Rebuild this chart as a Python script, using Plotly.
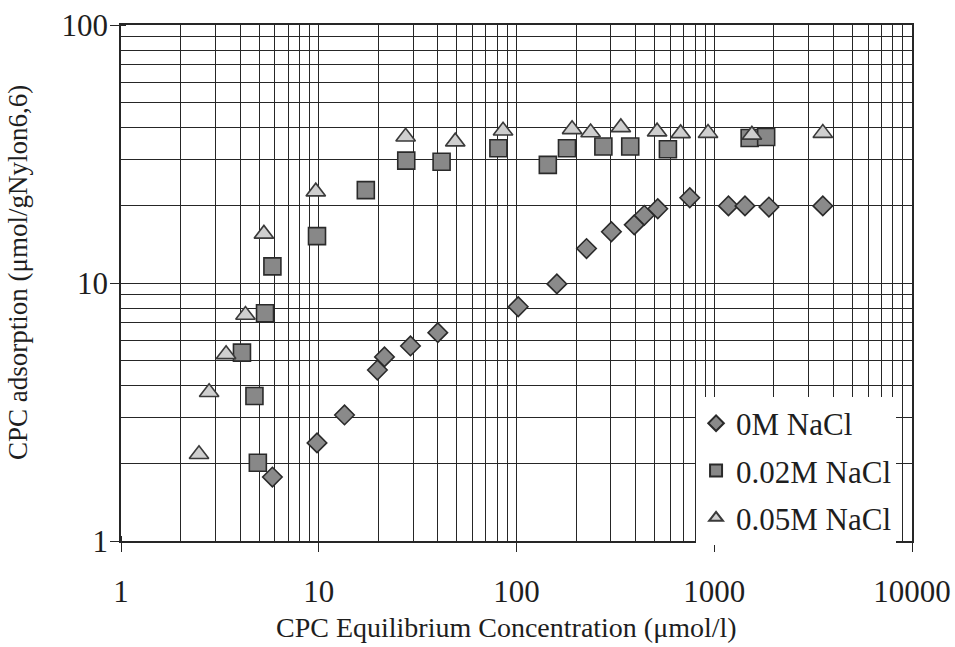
import plotly.graph_objects as go

# CPC adsorption isotherms on Nylon 6,6 at three NaCl concentrations
# x: equilibrium concentration (umol/l), y: adsorbed amount (umol/g)
conc_0M = [5.83, 9.8, 13.5, 19.8, 21.5, 29.1, 40.0, 102, 160, 226, 302, 394, 443,
           518, 752, 1180, 1430, 1890, 3540]
ads_0M = [1.77, 2.40, 3.08, 4.6, 5.17, 5.7, 6.42, 8.09, 9.92, 13.6, 15.8, 16.8, 18.3,
          19.4, 21.4, 19.9, 19.9, 19.7, 19.9]

conc_002M = [4.92, 4.73, 4.09, 5.35, 5.83, 9.8, 17.3, 27.7, 41.8, 81, 144, 180, 275,
             376, 583, 1510, 1830]
ads_002M = [2.01, 3.65, 5.37, 7.63, 11.6, 15.2, 22.9, 29.8, 29.5, 33.3, 28.7, 33.3, 33.8,
            33.8, 33.0, 36.5, 36.8]

conc_005M = [2.48, 2.79, 3.4, 4.26, 5.28, 9.66, 27.5, 49, 85.5, 191, 237, 337, 514,
             676, 930, 1550, 3540]
ads_005M = [2.17, 3.77, 5.29, 7.52, 15.5, 22.6, 36.9, 35.3, 38.9, 39.4, 38.3, 40.1, 38.6,
            38.0, 38.1, 37.5, 38.1]

series_names = ["0M NaCl", "0.02M NaCl", "0.05M NaCl"]

x_title = "CPC Equilibrium Concentration (μmol/l)"
y_title = "CPC adsorption (μmol/gNylon6,6)"

FONT = "Liberation Serif"
INK = "#1e1e1e"
GRID = "#262626"

fig = go.Figure()

fig.add_trace(go.Scatter(
    x=conc_0M, y=ads_0M, mode="markers", name=series_names[0], legendgroup="a",
    marker=dict(symbol="diamond", size=15, color="#8a8a8a",
                line=dict(color="#2a2a2a", width=1.6)),
))
fig.add_trace(go.Scatter(
    x=conc_002M, y=ads_002M, mode="markers", name=series_names[1], legendgroup="b",
    marker=dict(symbol="square", size=17, color="#888888",
                line=dict(color="#2a2a2a", width=1.6)),
))
fig.add_trace(go.Scatter(
    x=conc_005M, y=ads_005M, mode="markers", name=series_names[2], legendgroup="c",
    marker=dict(symbol="triangle-up", size=17, color="#cfcfcf",
                line=dict(color="#3a3a3a", width=1.6)),
))

axis_common = dict(
    type="log",
    dtick=1,
    tickformat="d",
    automargin=False,
    showgrid=True,
    gridcolor=GRID,
    gridwidth=1.2,
    showline=True,
    linecolor=GRID,
    linewidth=1.6,
    mirror=True,
    ticks="outside",
    ticklen=9,
    tickwidth=1.4,
    tickcolor=GRID,
    zeroline=False,
    tickfont=dict(family=FONT, size=31, color=INK),
    minor=dict(dtick="D1", showgrid=True, gridcolor=GRID, gridwidth=1.2,
               ticks="inside", ticklen=5, tickcolor=GRID),
)

fig.update_xaxes(**axis_common, range=[0, 4], ticklabelstandoff=13)
fig.update_yaxes(**axis_common, range=[0, 2], ticklabelstandoff=-4)

fig.update_layout(
    width=955,
    height=647,
    autosize=False,
    margin=dict(l=121, r=43, t=25, b=106, autoexpand=False),
    paper_bgcolor="white",
    plot_bgcolor="white",
    font=dict(family=FONT, color=INK),
    showlegend=True,
    legend=dict(
        x=0.727, y=0.28, xanchor="left", yanchor="top",
        bgcolor="white", borderwidth=0,
        font=dict(family=FONT, size=31, color=INK),
        tracegroupgap=4,
        itemsizing="constant",
    ),
    annotations=[
        dict(text=x_title, xref="paper", yref="paper", x=0.487, y=0,
             yshift=-86, xanchor="center", yanchor="middle", showarrow=False,
             font=dict(family=FONT, size=28, color=INK)),
        dict(text=y_title, xref="paper", yref="paper", x=0, y=0.5,
             xshift=-103, yshift=10, xanchor="center", yanchor="middle",
             textangle=-90, showarrow=False,
             font=dict(family=FONT, size=27, color=INK)),
    ],
)

fig.write_html("out.html")
